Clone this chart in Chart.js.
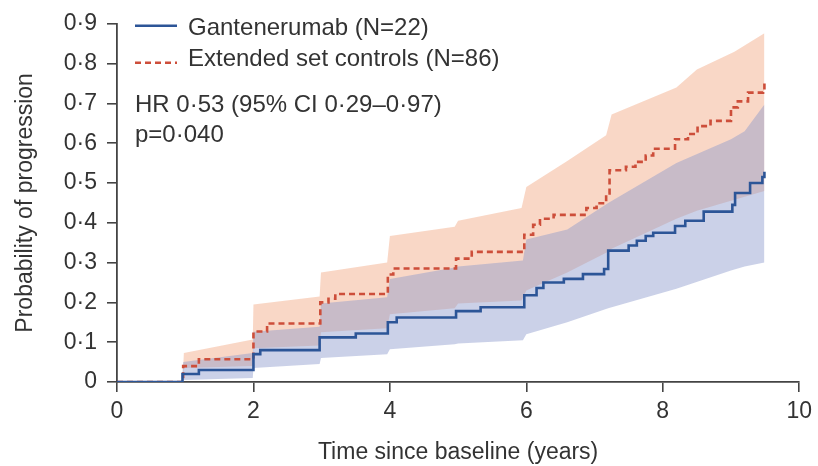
<!DOCTYPE html>
<html><head><meta charset="utf-8">
<script src="https://cdn.jsdelivr.net/npm/chart.js@4.4.1/dist/chart.umd.min.js"></script>
<style>html,body{margin:0;padding:0;background:#fff;}#wrap{width:818px;height:466px;}</style>
</head><body><div id="wrap"><canvas id="c" width="818" height="466"></canvas></div>
<script>
const seriesNames = ['Gantenerumab (N=22)', 'Extended set controls (N=86)'];
const statLines = ['HR 0·53 (95% CI 0·29–0·97)', 'p=0·040'];
const xTitle = 'Time since baseline (years)';
const yTitle = 'Probability of progression';
const xTickValues = [0, 2, 4, 6, 8, 10];
const yTickLabels = ['0', '0·1', '0·2', '0·3', '0·4', '0·5', '0·6', '0·7', '0·8', '0·9'];

// Kaplan-Meier style step curves (time in years, cumulative probability)
const gantT = [0, 0.96, 1.2, 2.0, 2.1, 2.97, 3.5, 3.97, 4.1, 4.97, 5.33, 5.97, 6.15, 6.25, 6.55, 6.83, 7.14, 7.2, 7.5, 7.62, 7.75, 7.86, 8.18, 8.33, 8.6, 9.02, 9.06, 9.28, 9.46, 9.49];
const gantP = [0, 0.020, 0.030, 0.070, 0.080, 0.112, 0.122, 0.150, 0.162, 0.178, 0.188, 0.218, 0.236, 0.250, 0.259, 0.271, 0.284, 0.330, 0.343, 0.355, 0.367, 0.375, 0.392, 0.405, 0.428, 0.445, 0.475, 0.500, 0.515, 0.528];
const ctrlT = [0, 0.97, 1.2, 2.0, 2.2, 2.98, 3.1, 3.2, 3.97, 4.05, 4.97, 5.2, 5.97, 6.1, 6.2, 6.4, 6.88, 7.03, 7.17, 7.22, 7.46, 7.6, 7.75, 7.86, 8.18, 8.37, 8.51, 8.7, 9.0, 9.1, 9.25, 9.47, 9.49];
const ctrlP = [0, 0.040, 0.057, 0.127, 0.147, 0.200, 0.209, 0.221, 0.270, 0.285, 0.310, 0.327, 0.370, 0.395, 0.410, 0.420, 0.437, 0.449, 0.474, 0.532, 0.541, 0.553, 0.569, 0.586, 0.610, 0.623, 0.643, 0.656, 0.690, 0.705, 0.727, 0.730, 0.752];

// 95% confidence bands
const gantBandT = [0, 0.95, 0.97, 1.99, 2.0, 2.97, 2.99, 3.96, 4.0, 4.95, 5.0, 5.95, 6.0, 6.6, 7.2, 8.2, 9.0, 9.2, 9.49];
const gantLo = [0, 0, 0.005, 0.010, 0.035, 0.045, 0.060, 0.070, 0.082, 0.095, 0.097, 0.105, 0.120, 0.150, 0.185, 0.234, 0.280, 0.290, 0.300];
const gantHi = [0, 0, 0.050, 0.073, 0.126, 0.139, 0.197, 0.213, 0.259, 0.288, 0.290, 0.305, 0.358, 0.383, 0.450, 0.550, 0.610, 0.630, 0.697];
const ctrlBandT = [0, 0.96, 0.98, 1.99, 2.0, 2.97, 2.99, 3.96, 4.0, 4.95, 5.0, 5.93, 6.0, 6.6, 7.17, 7.25, 8.2, 8.5, 9.05, 9.49];
const ctrlLo = [0, 0, 0.035, 0.040, 0.085, 0.092, 0.125, 0.135, 0.170, 0.185, 0.197, 0.205, 0.230, 0.275, 0.325, 0.335, 0.410, 0.430, 0.458, 0.480];
const ctrlHi = [0, 0, 0.073, 0.107, 0.195, 0.215, 0.275, 0.300, 0.367, 0.390, 0.405, 0.437, 0.490, 0.555, 0.620, 0.672, 0.740, 0.785, 0.830, 0.876];

const pts = (t, v) => t.map((x, i) => ({x: x, y: v[i]}));

Chart.defaults.font.family = "'Liberation Sans', Arial, sans-serif";
Chart.defaults.color = '#333';

const legendPlugin = {
  id: 'kmLegend',
  afterDraw(chart) {
    const ctx = chart.ctx, a = chart.chartArea;
    const ds = chart.data.datasets;
    const x0 = a.left + 18, x1 = a.left + 60, tx = a.left + 71;
    ctx.save();
    ctx.font = "24px 'Liberation Sans', Arial, sans-serif";
    ctx.fillStyle = '#333';
    ctx.textBaseline = 'alphabetic';
    ctx.textAlign = 'left';
    ctx.lineWidth = ds[0].borderWidth;
    ctx.strokeStyle = ds[0].borderColor;
    ctx.setLineDash([]);
    ctx.beginPath(); ctx.moveTo(x0, a.top + 2); ctx.lineTo(x1, a.top + 2); ctx.stroke();
    ctx.strokeStyle = ds[1].borderColor;
    ctx.lineWidth = ds[1].borderWidth;
    ctx.setLineDash(ds[1].borderDash);
    ctx.beginPath(); ctx.moveTo(x0, a.top + 39); ctx.lineTo(x1, a.top + 39); ctx.stroke();
    ctx.setLineDash([]);
    ctx.fillText(seriesNames[0], tx, a.top + 11);
    ctx.fillText(seriesNames[1], tx, a.top + 42);
    ctx.fillText(statLines[0], x0, a.top + 88);
    ctx.fillText(statLines[1], x0, a.top + 118);
    ctx.restore();
  }
};

const axisColor = '#444';
new Chart(document.getElementById('c'), {
  type: 'line',
  data: {
    datasets: [
      {label: seriesNames[0], data: pts(gantT, gantP), borderColor: '#2c5597', borderWidth: 2.6, stepped: true, pointRadius: 0, fill: false, order: 0},
      {label: seriesNames[1], data: pts(ctrlT, ctrlP), borderColor: 'rgb(205,78,58)', borderWidth: 2.6, borderDash: [6, 4], stepped: true, pointRadius: 0, fill: false, order: 1},
      {label: 'gantHi', data: pts(gantBandT, gantHi), borderWidth: 0, borderColor: 'rgba(0,0,0,0)', pointRadius: 0, fill: '+1', backgroundColor: 'rgba(139,153,204,0.45)', order: 2},
      {label: 'gantLo', data: pts(gantBandT, gantLo), borderWidth: 0, borderColor: 'rgba(0,0,0,0)', pointRadius: 0, fill: false, order: 2},
      {label: 'ctrlHi', data: pts(ctrlBandT, ctrlHi), borderWidth: 0, borderColor: 'rgba(0,0,0,0)', pointRadius: 0, fill: '+1', backgroundColor: 'rgba(242,166,128,0.45)', order: 3},
      {label: 'ctrlLo', data: pts(ctrlBandT, ctrlLo), borderWidth: 0, borderColor: 'rgba(0,0,0,0)', pointRadius: 0, fill: false, order: 3}
    ]
  },
  options: {
    responsive: false,
    animation: false,
    devicePixelRatio: 1,
    layout: {padding: {top: 19, right: 14, left: 0, bottom: 0}},
    plugins: {legend: {display: false}, tooltip: {enabled: false}},
    elements: {line: {tension: 0}},
    scales: {
      x: {
        type: 'linear', min: 0, max: 10,
        afterBuildTicks: s => { s.ticks = xTickValues.map(v => ({value: v})); },
        ticks: {font: {size: 23}, color: '#333', padding: 6, maxRotation: 0},
        grid: {drawOnChartArea: false, drawTicks: true, tickLength: 10, color: axisColor, lineWidth: 1.6},
        border: {display: true, color: axisColor, width: 1.8},
        title: {display: true, text: xTitle, font: {size: 23}, color: '#333', padding: {top: 0, bottom: 0}},
        afterFit: s => { s.height = 84; }
      },
      y: {
        type: 'linear', min: 0, max: 0.9,
        afterBuildTicks: s => { s.ticks = yTickLabels.map((l, i) => ({value: i / 10})); },
        ticks: {font: {size: 23}, color: '#333', padding: 10, callback: (v, i) => yTickLabels[i]},
        grid: {drawOnChartArea: false, drawTicks: true, tickLength: 10, color: axisColor, lineWidth: 1.6},
        border: {display: true, color: axisColor, width: 1.8},
        title: {display: true, text: yTitle, font: {size: 23}, color: '#333', padding: {top: 12, bottom: 0}},
        afterFit: s => { s.width = 117; }
      }
    }
  },
  plugins: [legendPlugin]
});
</script></body></html>
